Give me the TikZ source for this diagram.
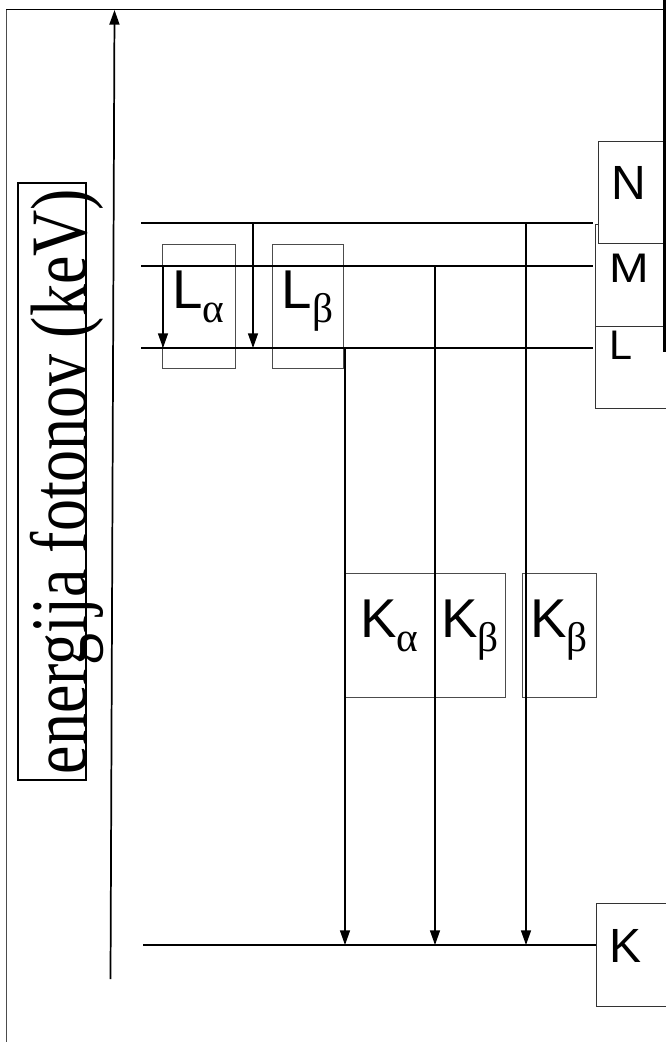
\documentclass[tikz,border=0pt]{standalone}
\usepackage{fontspec}
\setmainfont{Liberation Sans}
\newfontfamily\axisfont{Liberation Serif}
\newfontfamily\grkfont{Liberation Serif}
\usetikzlibrary{arrows.meta}
\newcommand{\greeksub}[1]{\raisebox{-11pt}{\grkfont\fontsize{31}{31}\selectfont #1}}
\tikzset{
  tbox/.style={draw=black!70, line width=0.75pt, inner sep=0pt,
    font=\fontsize{41}{41}\selectfont, text height=48pt, text depth=45pt},
  lbox/.style={draw=black!80, line width=0.75pt, inner sep=0pt, anchor=north west},
  level/.style={line width=1.2pt},
  trans/.style={line width=1pt, -{Triangle[width=7.5pt,length=11pt]}},
}
\begin{document}
\begin{tikzpicture}[x=0.75pt,y=-0.75pt]
\useasboundingbox (0,0) rectangle (666,1042);
\clip (0,0) rectangle (666,1042);
% frame
\draw[black!70, line width=0.75pt] (6,1042) -- (6,9);
\draw[line width=0.75pt] (6,9) -- (664,9);
% axis label
\node[draw, line width=1.3pt, rotate=90, inner sep=0pt, minimum width=447.75pt,
      text height=51pt, text depth=0pt] (axlabel) at (52,481.5)
  {\scalebox{0.8}[1]{\axisfont\fontsize{60}{60}\selectfont energija fotonov (keV)}};
% axis arrow
\coordinate (ax0) at (110.5,979);
\coordinate (ax1) at (114.5,10);
\draw[line width=1.3pt, -{Triangle[width=7.5pt,length=11pt]}] (ax0) -- (ax1);
% transition boxes
\node[tbox, minimum width=54.75pt] (la) at (198.5,306) {L\greeksub{α}};
\node[tbox, minimum width=53.25pt] (lb) at (307.5,306) {L\greeksub{β}};
\node[tbox, minimum width=68.25pt] (ka) at (389.5,635) {K\greeksub{α}};
\node[tbox, minimum width=52.5pt] (kb) at (470,635) {K\greeksub{β}};
\node[tbox, minimum width=55.5pt] (kb2) at (559,635) {K\greeksub{β}};
% level boxes
\node[lbox, text height=43.5pt, text depth=33pt] (mbox) at (595,224)
  {\makebox[78.75pt][l]{\hspace*{10.5pt}\fontsize{31}{31}\selectfont\scalebox{1.15}[1]{M}}};
\node[lbox, text height=24.75pt, text depth=36.75pt] (lbox) at (595,326)
  {\makebox[78.75pt][l]{\hspace*{10.5pt}\fontsize{31}{31}\selectfont L}};
\node[lbox, fill=white, text height=43.5pt, text depth=33pt] (nbox) at (598,141)
  {\makebox[48.75pt][l]{\hspace*{9.75pt}\fontsize{36}{36}\selectfont N}};
\node[lbox, text height=44.25pt, text depth=33pt] (kbox) at (596,903)
  {\makebox[78.75pt][l]{\hspace*{9.75pt}\fontsize{36}{36}\selectfont K}};
% levels
\coordinate (N0) at (141,223); \coordinate (N1) at (593,223);
\coordinate (M0) at (141,266); \coordinate (M1) at (593,266);
\coordinate (L0) at (141,348); \coordinate (L1) at (593,348);
\coordinate (K0) at (143,945); \coordinate (K1) at (596,945);
\draw[level] (N0) -- (N1);
\draw[level] (M0) -- (M1);
\draw[level] (L0) -- (L1);
\draw[level] (K0) -- (K1);
% transitions
\coordinate (t1s) at (163,266); \coordinate (t1e) at (163,348);
\coordinate (t2s) at (253,223); \coordinate (t2e) at (253,348);
\coordinate (t3s) at (345,348); \coordinate (t3e) at (345,945);
\coordinate (t4s) at (435,266); \coordinate (t4e) at (435,945);
\coordinate (t5s) at (526,223); \coordinate (t5e) at (526,945);
\draw[trans] (t1s) -- (t1e);
\draw[trans] (t2s) -- (t2e);
\draw[trans] (t3s) -- (t3e);
\draw[trans] (t4s) -- (t4e);
\draw[trans] (t5s) -- (t5e);
% thick right line
\draw[line width=2.25pt] (664,0) -- (664,352);
\end{tikzpicture}
\end{document}
